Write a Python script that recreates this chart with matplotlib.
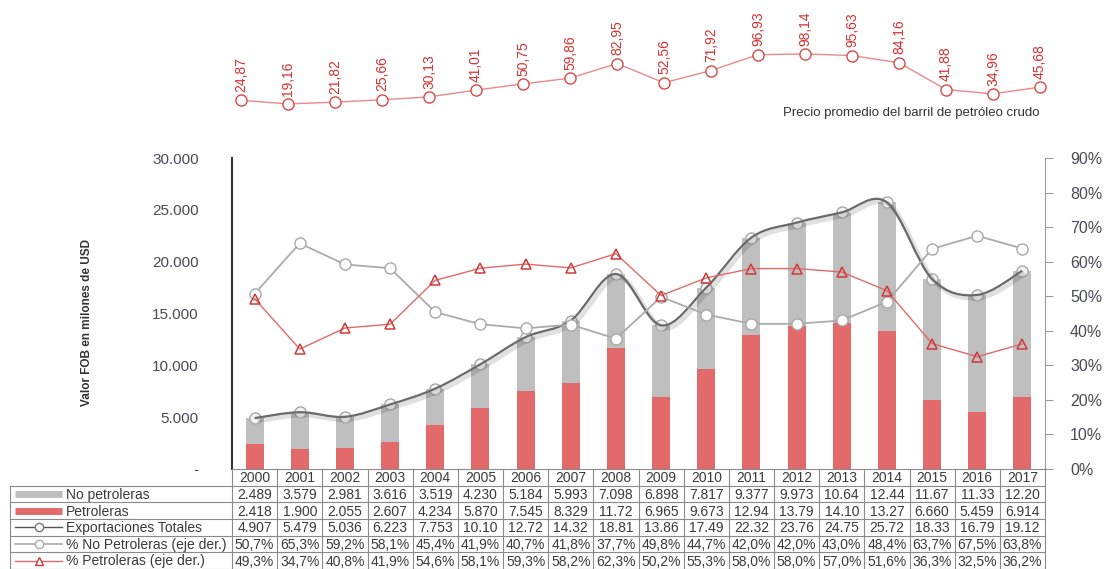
import numpy as np
import matplotlib
matplotlib.use("Agg")
import matplotlib.pyplot as plt
from matplotlib.path import Path
from matplotlib.patches import PathPatch
import matplotlib.patheffects as pe

plt.rcParams['font.family'] = ['Liberation Sans', 'DejaVu Sans']

years = ['2000', '2001', '2002', '2003', '2004', '2005', '2006', '2007', '2008',
         '2009', '2010', '2011', '2012', '2013', '2014', '2015', '2016', '2017']
# millones de USD
no_petroleras = [2489, 3579, 2981, 3616, 3519, 4230, 5184, 5993, 7098,
                 6898, 7817, 9377, 9973, 10640, 12440, 11670, 11330, 12200]
petroleras = [2418, 1900, 2055, 2607, 4234, 5870, 7545, 8329, 11720,
              6965, 9673, 12940, 13790, 14100, 13270, 6660, 5459, 6914]
totales = [4907, 5479, 5036, 6223, 7753, 10100, 12720, 14320, 18810,
           13860, 17490, 22320, 23760, 24750, 25720, 18330, 16790, 19120]
pct_no_pet = [50.7, 65.3, 59.2, 58.1, 45.4, 41.9, 40.7, 41.8, 37.7,
              49.8, 44.7, 42.0, 42.0, 43.0, 48.4, 63.7, 67.5, 63.8]
pct_pet = [49.3, 34.7, 40.8, 41.9, 54.6, 58.1, 59.3, 58.2, 62.3,
           50.2, 55.3, 58.0, 58.0, 57.0, 51.6, 36.3, 32.5, 36.2]
precio = [24.87, 19.16, 21.82, 25.66, 30.13, 41.01, 50.75, 59.86, 82.95,
          52.56, 71.92, 96.93, 98.14, 95.63, 84.16, 41.88, 34.96, 45.68]

# table text as printed
tab_no_pet = ['2.489', '3.579', '2.981', '3.616', '3.519', '4.230', '5.184', '5.993', '7.098',
              '6.898', '7.817', '9.377', '9.973', '10.64', '12.44', '11.67', '11.33', '12.20']
tab_pet = ['2.418', '1.900', '2.055', '2.607', '4.234', '5.870', '7.545', '8.329', '11.72',
           '6.965', '9.673', '12.94', '13.79', '14.10', '13.27', '6.660', '5.459', '6.914']
tab_tot = ['4.907', '5.479', '5.036', '6.223', '7.753', '10.10', '12.72', '14.32', '18.81',
           '13.86', '17.49', '22.32', '23.76', '24.75', '25.72', '18.33', '16.79', '19.12']
row_labels = ['No petroleras', 'Petroleras', 'Exportaciones Totales',
              '% No Petroleras (eje der.)', '% Petroleras (eje der.)']

RED = '#e26a6a'
GREY = '#bfbfbf'
TXT = '#3a3a3a'

W, H = 1104, 569
fig = plt.figure(figsize=(W / 100, H / 100), dpi=100)
x = np.arange(len(years))


def box(l, t, r, b):
    return [l / W, 1 - b / H, (r - l) / W, (b - t) / H]


# ---- main chart
ax = fig.add_axes(box(232, 158, 1045, 469))
ax.bar(x, petroleras, width=0.4, color=RED, zorder=2)
ax.bar(x, no_petroleras, width=0.4, bottom=petroleras, color=GREY, zorder=2)
ax.set_xlim(-0.5, 17.5)
ax.set_ylim(0, 30000)
ax.set_yticks(np.arange(0, 30001, 5000))
ax.set_yticklabels(['-', '5.000', '10.000', '15.000', '20.000', '25.000', '30.000'])
ax.tick_params(axis='y', length=0, pad=24, labelsize=11, labelcolor='#4a4a58')
ax.set_xticks([])
for s in ['top', 'right', 'bottom']:
    ax.spines[s].set_visible(False)
ax.spines['left'].set_color('#333333')
ax.spines['left'].set_linewidth(1.5)

# smoothed total line (Catmull-Rom -> cubic bezier)
pts = np.column_stack([x, totales]).astype(float)
ext = np.vstack([pts[0], pts, pts[-1]])
verts = [tuple(pts[0])]
codes = [Path.MOVETO]
for i in range(len(pts) - 1):
    p0, p1, p2, p3 = ext[i], ext[i + 1], ext[i + 2], ext[i + 3]
    c1 = p1 + (p2 - p0) / 6
    c2 = p2 - (p3 - p1) / 6
    verts += [tuple(c1), tuple(c2), tuple(p2)]
    codes += [Path.CURVE4] * 3
ax.plot(x, totales, ls='none', marker='o', ms=8, mfc='#f4f4f4', mec='#a8a8a8', mew=1, zorder=3)
curve = PathPatch(Path(verts, codes), facecolor='none', edgecolor='#6a6a6a', lw=1.6, zorder=4,
                  path_effects=[pe.SimpleLineShadow(offset=(2, -2), alpha=0.12, linewidth=3.5),
                                pe.Normal()])
ax.add_patch(curve)

ax2 = ax.twinx()
ax2.set_ylim(0, 90)
ax2.set_yticks(np.arange(0, 91, 10))
ax2.set_yticklabels([f'{v}%' for v in range(0, 91, 10)])
ax2.plot(x, pct_no_pet, color='#ababab', lw=1.3, marker='o', ms=8, mfc='white', mec='#a8a8a8', zorder=3)
ax2.plot(x, pct_pet, color='#e06a6a', lw=1.0, marker='^', ms=7, mfc='none', mec='#d03a3a', mew=1.1, zorder=3)
for s in ['top', 'left', 'bottom']:
    ax2.spines[s].set_visible(False)
ax2.spines['right'].set_color('#9a9a9a')
ax2.tick_params(axis='y', length=6, color='#9a9a9a', pad=12, labelsize=11.5, labelcolor='#4a4a58')

fig.text(87 / W, 1 - 322 / H, 'Valor FOB en milones de USD', rotation=90, ha='center', va='center',
         fontsize=8.5, fontweight='bold', color='#333333')

# ---- price panel
axp = fig.add_axes(box(217.5, 30, 1063.5, 116))
axp.set_xlim(-0.5, 17.5)
axp.set_ylim(0, 136)
axp.axis('off')
axp.plot(x, precio, color='#e88a8a', lw=1.0, marker='o', ms=8, mfc='white', mec='#d84848', mew=1.0)
for xi, p in zip(x, precio):
    axp.annotate(f'{p:.2f}'.replace('.', ','), (xi, p), xytext=(0, 6), textcoords='offset points',
                 rotation=90, ha='center', va='bottom', fontsize=10, color='#d83030')
fig.text(783 / W, 1 - 113 / H, 'Precio promedio del barril de petróleo crudo',
         ha='left', va='center', fontsize=9.5, color='#333333')

# ---- data table
tab = fig.add_axes(box(232, 469, 1045, 569))
tab.set_xlim(-0.5, 17.5)
tab.set_ylim(6, 0)
tab.axis('off')
left = -0.5 - 222 / 45.17
lc = '#8a8a8a'
for r in range(7):
    x0 = left if r >= 1 else -0.5
    tab.plot([x0, 17.5], [r, r], color=lc, lw=0.8, clip_on=False)
for k in range(19):
    tab.plot([-0.5 + k, -0.5 + k], [0, 6], color=lc, lw=0.8, clip_on=False)
tab.plot([left, left], [1, 6], color=lc, lw=0.8, clip_on=False)

FS = 10
for i, yr in enumerate(years):
    tab.text(i, 0.55, yr, ha='center', va='center', fontsize=FS, color=TXT)
for r, vals in enumerate([tab_no_pet, tab_pet, tab_tot], start=1):
    for i, v in enumerate(vals):
        tab.text(i, r + 0.55, v, ha='center', va='center', fontsize=FS, color=TXT)
for r, vals in enumerate([pct_no_pet, pct_pet], start=4):
    for i, v in enumerate(vals):
        tab.text(i, r + 0.55, f'{v:.1f}%'.replace('.', ','), ha='center', va='center',
                 fontsize=FS, color=TXT)

sx0 = left + 5 / 45.17
sx1 = left + 52 / 45.17
smid = (sx0 + sx1) / 2
tx = left + 56 / 45.17
tab.plot([sx0, sx1], [1.5, 1.5], color=GREY, lw=5, solid_capstyle='butt', clip_on=False)
tab.plot([sx0, sx1], [2.5, 2.5], color=RED, lw=5, solid_capstyle='butt', clip_on=False)
tab.plot([sx0, sx1], [3.5, 3.5], color='#555555', lw=1, clip_on=False)
tab.plot([smid], [3.5], marker='o', ms=6, mfc='white', mec='#777777', clip_on=False)
tab.plot([sx0, sx1], [4.5, 4.5], color='#aaaaaa', lw=1.2, clip_on=False)
tab.plot([smid], [4.5], marker='o', ms=6, mfc='white', mec='#aaaaaa', clip_on=False)
tab.plot([sx0, sx1], [5.5, 5.5], color='#e06a6a', lw=1, clip_on=False)
tab.plot([smid], [5.5], marker='^', ms=6, mfc='white', mec='#d03a3a', clip_on=False)
for r, lab in enumerate(row_labels, start=1):
    tab.text(tx, r + 0.55, lab, ha='left', va='center', fontsize=FS, color=TXT, clip_on=False)

fig.savefig('out.png', dpi=100)
